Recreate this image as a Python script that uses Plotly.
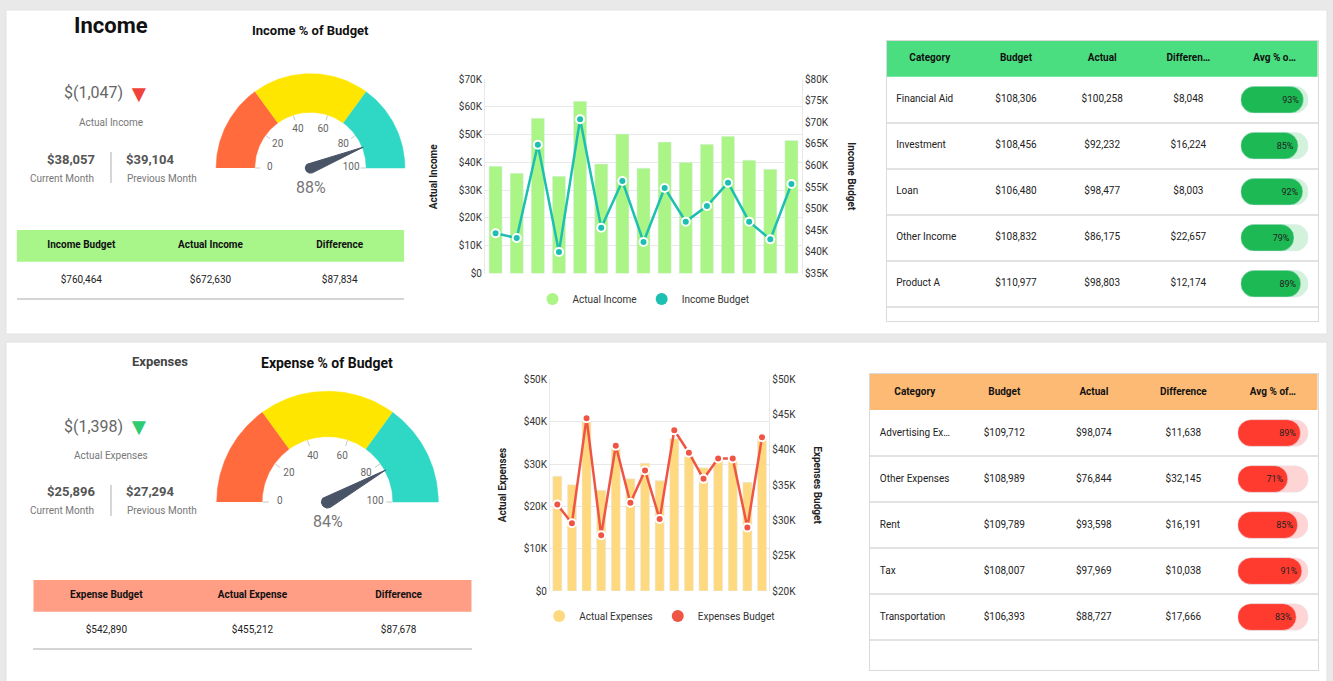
import numpy as np
import plotly.graph_objects as go

W, H = 1333, 681
FONT = "Roboto"

# ---------------- data ----------------
periods = list(range(1, 16))

income_actual = [38600, 36100, 55900, 35000, 62000, 39400, 50200, 37900,
                 47300, 40000, 46500, 49400, 40800, 37500, 47900]
income_budget = [44300, 43200, 64800, 40000, 70700, 45600, 56400, 42300,
                 54800, 47000, 50600, 56000, 47000, 42900, 55700]
expense_actual = [27100, 25100, 40000, 23800, 34000, 26500, 30200, 26100,
                  36000, 31800, 29100, 30900, 30700, 25700, 36000]
expense_budget = [32250, 29600, 44500, 27900, 40600, 32500, 37100, 30200,
                  42800, 39600, 35900, 38800, 38800, 29000, 41800]

income_pct = 88
expense_pct = 84
gauge_bands = [0, 30, 70, 100]
gauge_colors = ["#FF6B3D", "#FFE600", "#2ED8C4"]
gauge_ticks = [0, 20, 40, 60, 80, 100]

income_change = "$(1,047)"
income_current = 38057
income_previous = 39104
expense_change = "$(1,398)"
expense_current = 25896
expense_previous = 27294

income_total_heads = ["Income Budget", "Actual Income", "Difference"]
income_totals = [760464, 672630, 87834]
expense_total_heads = ["Expense Budget", "Actual Expense", "Difference"]
expense_totals = [542890, 455212, 87678]

income_heads = ["Category", "Budget", "Actual", "Differen…", "Avg % o…"]
income_cats = ["Financial Aid", "Investment", "Loan", "Other Income", "Product A"]
income_cat_budget = [108306, 108456, 106480, 108832, 110977]
income_cat_actual = [100258, 92232, 98477, 86175, 98803]
income_cat_diff = [8048, 16224, 8003, 22657, 12174]
income_cat_pct = [93, 85, 92, 79, 89]

expense_heads = ["Category", "Budget", "Actual", "Difference", "Avg % of…"]
expense_cats = ["Advertising Ex…", "Other Expenses", "Rent", "Tax", "Transportation"]
expense_cat_budget = [109712, 108989, 109789, 108007, 106393]
expense_cat_actual = [98074, 76844, 93598, 97969, 88727]
expense_cat_diff = [11638, 32145, 16191, 10038, 17666]
expense_cat_pct = [89, 71, 85, 91, 83]

# ---------------- helpers ----------------
fig = go.Figure()
count = [0]


def money(v):
    return f"${v:,}"


def money_k(v):
    return "$0" if v == 0 else f"${v // 1000}K"


def new_subplot(x0, x1, top, bottom, xrange, yrange):
    count[0] += 1
    s = "" if count[0] == 1 else str(count[0])
    fig.update_layout({
        "xaxis" + s: dict(domain=[x0 / W, x1 / W], range=xrange, anchor="y" + s,
                          visible=False, fixedrange=True),
        "yaxis" + s: dict(domain=[1 - bottom / H, 1 - top / H], range=yrange,
                          anchor="x" + s, visible=False, fixedrange=True),
    })
    return "x" + s, "y" + s, s


def label(x, y, text, size, color, bold=False, angle=0, xanchor="center"):
    fig.add_annotation(x=x / W, y=1 - y / H, xref="paper", yref="paper",
                       text=f"<b>{text}</b>" if bold else text, showarrow=False,
                       textangle=angle, xanchor=xanchor, yanchor="middle",
                       font=dict(family=FONT, size=size, color=color))


def text_trace(xa, ya, x, y, text, size=10, color="#222", pos="middle center"):
    fig.add_trace(go.Scatter(x=x, y=y, text=text, mode="text", textposition=pos,
                             textfont=dict(family=FONT, size=size, color=color),
                             hoverinfo="skip", showlegend=False, xaxis=xa, yaxis=ya,
                             cliponaxis=False))


def add_gauge(cx, cy, R, value):
    xa, ya, s = new_subplot(cx - 1.08 * R, cx + 1.08 * R, cy - 1.1 * R, cy + 0.4 * R,
                            [-1.08, 1.08], [-0.4, 1.1])
    inner = 0.59

    def ang(v):
        return np.pi * (1 - np.asarray(v, float) / 100)

    for a, b, col in zip(gauge_bands[:-1], gauge_bands[1:], gauge_colors):
        t = np.linspace(ang(a), ang(b), 60)
        xs = np.r_[np.cos(t), inner * np.cos(t[::-1])]
        ys = np.r_[np.sin(t), inner * np.sin(t[::-1])]
        fig.add_trace(go.Scatter(x=xs, y=ys, mode="lines", fill="toself", fillcolor=col,
                                 line=dict(color=col, width=0.5), hoverinfo="skip",
                                 showlegend=False, xaxis=xa, yaxis=ya))
    tx, ty = [], []
    for a in ang(gauge_ticks):
        tx += [0.53 * np.cos(a), 0.585 * np.cos(a), None]
        ty += [0.53 * np.sin(a), 0.585 * np.sin(a), None]
    fig.add_trace(go.Scatter(x=tx, y=ty, mode="lines", line=dict(color="#C8C8C8", width=1),
                             hoverinfo="skip", showlegend=False, xaxis=xa, yaxis=ya))
    la = ang(gauge_ticks)
    text_trace(xa, ya, 0.43 * np.cos(la), 0.43 * np.sin(la),
               [str(v) for v in gauge_ticks], size=10, color="#666")
    a = float(ang(value))
    back = np.linspace(a + np.pi / 2, a + 3 * np.pi / 2, 24)
    nx = np.r_[0.6 * np.cos(a), 0.055 * np.cos(back), 0.6 * np.cos(a)]
    ny = np.r_[0.6 * np.sin(a), 0.055 * np.sin(back), 0.6 * np.sin(a)]
    fig.add_trace(go.Scatter(x=nx, y=ny, mode="lines", fill="toself", fillcolor="#4A5467",
                             line=dict(color="#4A5467", width=1), hoverinfo="skip",
                             showlegend=False, xaxis=xa, yaxis=ya))
    label(cx, cy + 19, f"{value}%", 16, "#777")


def add_combo(x0, x1, top, bottom, bars, line, bar_col, line_col, lrange, ldt,
              rrange, rdt, bar_name, line_name, legend_id, legend_y, ltitle, rtitle):
    xa, ya, s = new_subplot(x0, x1, top, bottom, [0.5, 15.5], lrange)
    count[0] += 1
    sr = str(count[0])
    tick_font = dict(family=FONT, size=10, color="#333")
    lvals = list(range(lrange[0], lrange[1] + 1, ldt))
    rvals = list(range(rrange[0], rrange[1] + 1, rdt))
    fig.layout["yaxis" + s].update(visible=True, showgrid=True, gridcolor="#E8E8E8",
                                   tickvals=lvals, ticktext=[money_k(v) for v in lvals],
                                   showline=True, linecolor="#E8E8E8", zeroline=False,
                                   ticks="", tickfont=tick_font)
    fig.update_layout({"yaxis" + sr: dict(overlaying="y" + s, side="right", anchor="x" + s,
                                          range=rrange, tickvals=rvals,
                                          ticktext=[money_k(v) for v in rvals],
                                          showgrid=False, showline=True, linecolor="#E8E8E8",
                                          zeroline=False, ticks="", tickfont=tick_font,
                                          fixedrange=True)})
    fig.add_trace(go.Bar(x=periods, y=bars, width=0.62, marker_color=bar_col, name=bar_name,
                         showlegend=False, hoverinfo="skip", xaxis=xa, yaxis=ya))
    fig.add_trace(go.Scatter(x=periods, y=line, mode="lines+markers", name=line_name,
                             line=dict(color=line_col, width=2.5),
                             marker=dict(size=8, color=line_col, line=dict(color="white", width=2)),
                             showlegend=False, hoverinfo="skip", xaxis=xa, yaxis="y" + sr))
    for nm, col in ((bar_name, bar_col), (line_name, line_col)):
        fig.add_trace(go.Scatter(x=[None], y=[None], mode="markers", name=nm,
                                 marker=dict(size=12, color=col), legend=legend_id,
                                 xaxis=xa, yaxis=ya))
    fig.update_layout({legend_id: dict(orientation="h", x=(x0 + x1) / 2 / W, xanchor="center",
                                       y=1 - legend_y / H, yanchor="middle", itemwidth=30,
                                       bgcolor="rgba(0,0,0,0)",
                                       font=dict(family=FONT, size=10, color="#333"))})
    mid = (top + bottom) / 2
    label(ltitle[1], mid, ltitle[0], 10, "#222", bold=True, angle=-90)
    label(rtitle[1], mid, rtitle[0], 10, "#222", bold=True, angle=90)


def add_big_table(x0, x1, top, bottom, header_h, row_h, heads, cats, budget, actual, diff,
                  pct, head_col, pill_col, track_col, pill_x0, pill_x1):
    total = bottom - top
    n = len(cats)
    xa, ya, s = new_subplot(x0, x1, top, bottom, [0, 5], [total, 0])
    bounds = [header_h + row_h * (i + 1) for i in range(n)]
    centers = [header_h + row_h * (i + 0.5) for i in range(n)]
    fig.layout["xaxis" + s].update(visible=True, showline=True, mirror=True, linecolor="#DADADA",
                                   showgrid=False, showticklabels=False, zeroline=False, ticks="")
    fig.layout["yaxis" + s].update(visible=True, showline=True, mirror=True, linecolor="#DADADA",
                                   showgrid=True, gridcolor="#E2E2E2", gridwidth=1.5,
                                   tickvals=bounds, showticklabels=False, zeroline=False, ticks="")
    fig.add_shape(type="rect", xref=xa, yref=ya, x0=0, x1=5, y0=0, y1=header_h,
                  fillcolor=head_col, line_width=0, layer="between")
    text_trace(xa, ya, [i + 0.5 for i in range(5)], [header_h / 2] * 5,
               [f"<b>{h}</b>" for h in heads], size=10, color="#111")
    text_trace(xa, ya, [0.11] * n, centers, cats, pos="middle right")
    for j, col in enumerate([budget, actual, diff], start=1):
        text_trace(xa, ya, [j + 0.5] * n, centers, [money(v) for v in col])
    pa, pb, ps = new_subplot(pill_x0, pill_x1, top, bottom, [0, 100], [total, 0])
    common = dict(y=centers, orientation="h", width=26.7, base=[0] * n, hoverinfo="skip",
                  showlegend=False, xaxis=pa, yaxis=pb)
    fig.add_trace(go.Bar(x=[100] * n, marker=dict(color=track_col, cornerradius="50%"), **common))
    fig.add_trace(go.Bar(x=pct, text=[f"{p}%" for p in pct], textposition="inside",
                         insidetextanchor="end", textangle=0,
                         textfont=dict(family=FONT, size=9, color="#222"),
                         marker=dict(color=pill_col, cornerradius="50%"), **common))


def add_small_table(x0, x1, top, bottom, header_h, heads, vals, head_col):
    total = bottom - top
    xa, ya, s = new_subplot(x0, x1, top, bottom, [0, 3], [total, 0])
    fig.layout["xaxis" + s].update(visible=True, showline=True, linecolor="#D5D5D5", linewidth=1.5,
                                   showgrid=False, showticklabels=False, zeroline=False, ticks="")
    fig.add_shape(type="rect", xref=xa, yref=ya, x0=0, x1=3, y0=0, y1=header_h,
                  fillcolor=head_col, line_width=0, layer="between")
    text_trace(xa, ya, [0.5, 1.5, 2.5], [header_h / 2] * 3, [f"<b>{h}</b>" for h in heads],
               size=10, color="#111")
    text_trace(xa, ya, [0.5, 1.5, 2.5], [header_h + (total - header_h) / 2] * 3,
               [money(v) for v in vals])


def add_kpi(y0, title, title_pos, title_size, title_color, gauge_title, gauge_title_y,
            gauge_title_size, change, arrow_col, change_label, current, previous):
    label(title_pos[0], title_pos[1], title, title_size, title_color, bold=True)
    label(gauge_title[1], gauge_title_y, gauge_title[0], gauge_title_size, "#111", bold=True)
    label(93, y0, change, 16, "#666")
    label(139, y0 + 1, "▼", 24, arrow_col)
    label(111, y0 + 29, change_label, 10, "#777")
    label(71, y0 + 66, money(current), 13, "#555", bold=True)
    label(62, y0 + 85, "Current Month", 10, "#777")
    label(150, y0 + 66, money(previous), 13, "#555", bold=True)
    label(162, y0 + 85, "Previous Month", 10, "#777")
    fig.add_shape(type="line", xref="paper", yref="paper", x0=111 / W, x1=111 / W,
                  y0=1 - (y0 + 59) / H, y1=1 - (y0 + 90) / H, line=dict(color="#C8C8C8", width=1.5))


# ---------------- cards ----------------
for top, bottom in ((10, 334), (342, 690)):
    fig.add_shape(type="rect", xref="paper", yref="paper", x0=6 / W, x1=1327 / W,
                  y0=1 - bottom / H, y1=1 - top / H, fillcolor="white",
                  line=dict(color="#E2E2E2", width=1), layer="below")

# ---------------- income section ----------------
add_kpi(93, "Income", (111, 26), 22, "#111", ("Income % of Budget", 310), 30, 13,
        income_change, "#F0443A", "Actual Income", income_current, income_previous)
add_gauge(310.5, 168, 94.4, income_pct)
add_small_table(16.7, 404.3, 230, 298.3, 31.7, income_total_heads, income_totals, "#A8F58A")
add_combo(485, 802, 79, 273.5, income_actual, income_budget, "#ABF486", "#1DBFB0",
          [0, 70000], 10000, [35000, 80000], 5000, "Actual Income", "Income Budget",
          "legend", 299, ("Actual Income", 433), ("Income Budget", 852))
add_big_table(886.7, 1317.7, 41, 320.7, 35.7, 46, income_heads, income_cats, income_cat_budget,
              income_cat_actual, income_cat_diff, income_cat_pct, "#4ADE80", "#1DB954",
              "#D3F2DC", 1240.7, 1308.3)

# ---------------- expense section ----------------
add_kpi(426, "Expenses", (160, 361), 13, "#444", ("Expense % of Budget", 327), 363, 14,
        expense_change, "#2ECC71", "Actual Expenses", expense_current, expense_previous)
add_gauge(327.5, 502, 110.8, expense_pct)
add_small_table(33.3, 471.7, 580, 648.3, 31.7, expense_total_heads, expense_totals, "#FF9D85")
add_combo(550, 769.3, 379.4, 591, expense_actual, expense_budget, "#FFD980", "#EE5544",
          [0, 50000], 10000, [20000, 50000], 5000, "Actual Expenses", "Expenses Budget",
          "legend2", 616, ("Actual Expenses", 502), ("Expenses Budget", 818))
add_big_table(870, 1317.7, 374, 670, 36, 46, expense_heads, expense_cats, expense_cat_budget,
              expense_cat_actual, expense_cat_diff, expense_cat_pct, "#FDBA74", "#FF3B2F",
              "#FFD4D4", 1237.7, 1308.3)

fig.update_layout(
    width=W, height=H, margin=dict(l=0, r=0, t=0, b=0, autoexpand=False),
    paper_bgcolor="#E9E9E9", plot_bgcolor="rgba(0,0,0,0)",
    font=dict(family=FONT, size=10, color="#333"),
    barmode="overlay", showlegend=True,
)

fig.write_html("out.html", config={"displayModeBar": False},
               post_script="document.body.style.margin='0px';")
